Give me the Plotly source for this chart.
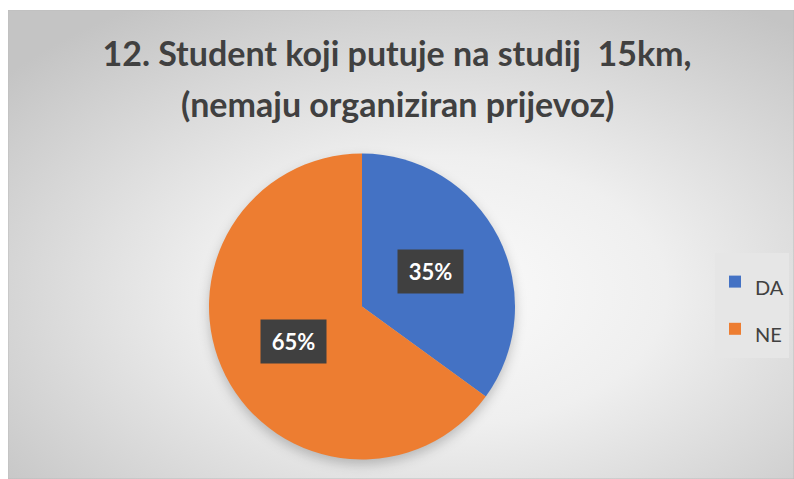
import base64
import math
import plotly.graph_objects as go

# ---- data ----
categories = ["DA", "NE"]
values = [35, 65]
colors = ["#4472C4", "#ED7D31"]
title_line1 = "12. Student koji putuje na studij\u00a0 15km,"
title_line2 = "(nemaju organiziran prijevoz)"

W, H = 794, 479
FONT = "Lato"

# pie geometry (pixels)
pie_cx, pie_cy, pie_r = 362, 306.5, 153
dom_x = [(pie_cx - pie_r) / W, (pie_cx + pie_r) / W]
dom_y = [(H - (pie_cy + pie_r)) / H, (H - (pie_cy - pie_r)) / H]

# background: radial gradient chart area + soft pie shadow
bx0, by0, bw, bh = 8, 10, W - 8, H - 10
svg = f"""<svg xmlns='http://www.w3.org/2000/svg' width='{bw}' height='{bh}' viewBox='0 0 {bw} {bh}'>
<defs>
<radialGradient id='g' cx='0.55' cy='0.6' r='0.72'>
<stop offset='0' stop-color='#fbfbfb'/>
<stop offset='0.4' stop-color='#efefef'/>
<stop offset='1' stop-color='#c4c4c4'/>
</radialGradient>
<filter id='b' x='-30%' y='-30%' width='160%' height='160%'><feGaussianBlur stdDeviation='6'/></filter>
</defs>
<rect x='0' y='0' width='{bw}' height='{bh}' fill='url(#g)' stroke='#bdbdbd' stroke-width='1'/>
<circle cx='{pie_cx - bx0}' cy='{pie_cy - by0 + 5}' r='{pie_r}' fill='#000' fill-opacity='0.22' filter='url(#b)'/>
</svg>"""
bg_uri = "data:image/svg+xml;base64," + base64.b64encode(svg.encode()).decode()

legend_labels = [f"<span style='font-size:20px'>{c}</span>" for c in categories]

fig = go.Figure(
    go.Pie(
        labels=legend_labels,
        values=values,
        marker=dict(colors=colors, line=dict(width=0)),
        sort=False,
        direction="clockwise",
        rotation=0,
        textinfo="none",
        hoverinfo="label+percent",
        domain=dict(x=dom_x, y=dom_y),
    )
)

# data labels in dark boxes, positioned at half radius on each slice's mid-angle
total = sum(values)
cum = 0
annotations = []
for v in values:
    mid = (cum + v / 2) / total * 2 * math.pi
    cum += v
    dx = 0.5 * pie_r * math.sin(mid)
    dy = 0.5 * pie_r * math.cos(mid)
    annotations.append(
        dict(
            x=(pie_cx + dx) / W,
            y=(H - pie_cy + dy) / H,
            xref="paper",
            yref="paper",
            text=f"<b>{round(v / total * 100)}%</b>",
            showarrow=False,
            font=dict(family=FONT, size=22, color="white"),
            bgcolor="#404040",
            width=63,
            height=41,
            xanchor="center",
            yanchor="middle",
        )
    )

annotations.append(
    dict(
        x=0.5, y=1 - 103 / H, xref="paper", yref="paper",
        text=f"<b>{title_line2}</b>", showarrow=False,
        font=dict(family=FONT, size=34, color="#404040"),
        xanchor="center", yanchor="middle",
    )
)

fig.update_layout(
    width=W,
    height=H,
    margin=dict(l=0, r=0, t=0, b=0, autoexpand=False),
    paper_bgcolor="white",
    plot_bgcolor="rgba(0,0,0,0)",
    title=dict(
        text=f"<b>{title_line1}</b>",
        font=dict(family=FONT, size=34, color="#404040"),
        x=0.5,
        xanchor="center",
        xref="paper",
        y=1 - 54 / H,
        yref="container",
        yanchor="middle",
    ),
    showlegend=True,
    legend=dict(
        x=715 / W,
        y=1 - 253 / H,
        xanchor="left",
        yanchor="top",
        bgcolor="#e6e6e6",
        font=dict(family=FONT, size=34, color="#404040"),
        itemclick=False,
    ),
    annotations=annotations,
    images=[
        dict(
            source=bg_uri,
            xref="paper",
            yref="paper",
            x=bx0 / W,
            y=1 - by0 / H,
            sizex=bw / W,
            sizey=bh / H,
            xanchor="left",
            yanchor="top",
            sizing="stretch",
            layer="below",
        )
    ],
)

fig.write_html(
    "out.html",
    config={"displayModeBar": False},
    post_script="document.body.style.margin='0';",
)
